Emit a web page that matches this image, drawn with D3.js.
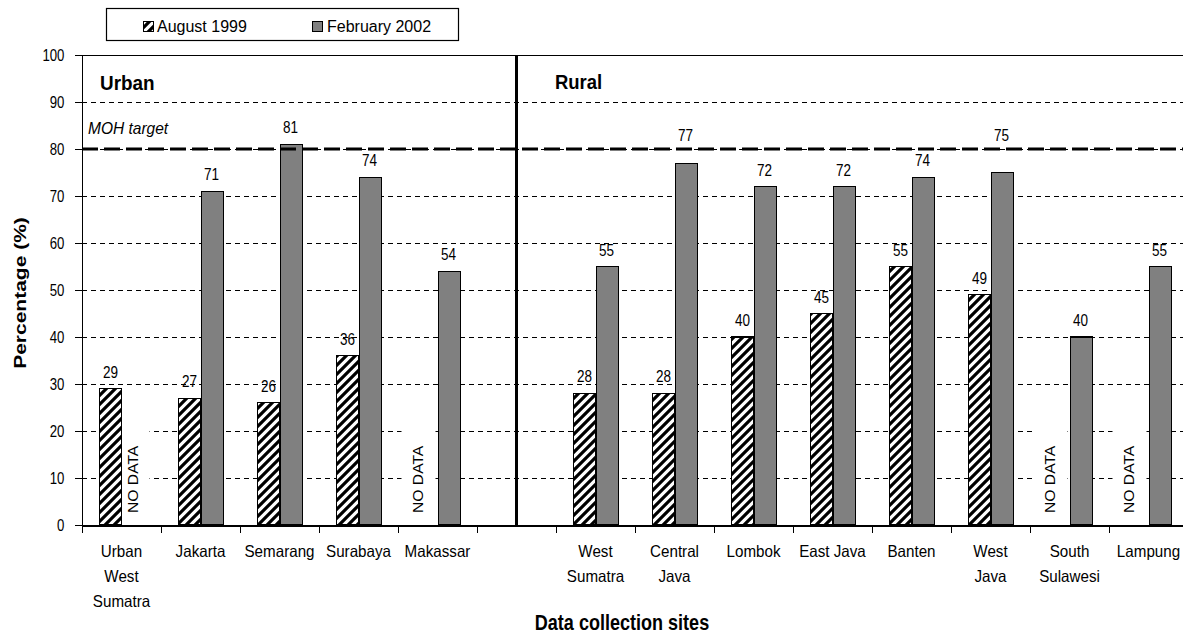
<!DOCTYPE html>
<html>
<head>
<meta charset="utf-8">
<script src="https://cdn.jsdelivr.net/npm/d3@7"></script>
<style>
  html, body { margin: 0; padding: 0; background: #fff; }
  svg { display: block; font-family: "Liberation Sans", Arial, sans-serif; }
</style>
</head>
<body>
<svg id="chart" width="1183" height="635"></svg>
<script>
// ---- data -------------------------------------------------------------
const urbanSites = ["Urban\nWest\nSumatra", "Jakarta", "Semarang", "Surabaya", "Makassar"];
const ruralSites = ["West\nSumatra", "Central\nJava", "Lombok", "East Java", "Banten", "West\nJava", "South\nSulawesi", "Lampung"];
const seriesNames = ["August 1999", "February 2002"];
const urbanAug1999 = [29, 27, 26, 36, null];
const urbanFeb2002 = [null, 71, 81, 74, 54];
const ruralAug1999 = [28, 28, 40, 45, 55, 49, null, null];
const ruralFeb2002 = [55, 77, 72, 72, 74, 75, 40, 55];
const yTicks = [0, 10, 20, 30, 40, 50, 60, 70, 80, 90, 100];
const mohTarget = 80;
const groupTitles = ["Urban", "Rural"];
const targetLabel = "MOH target";
const noDataText = "NO DATA";
const yTitle = "Percentage (%)";
const xTitle = "Data collection sites";

// ---- layout -----------------------------------------------------------
const svg = d3.select("#chart");
const plotLeft = 82, plotTop = 55, plotBottom = 525, step = 79;
const gapKey = "__gap__";

const rows = [
  ...urbanSites.map((s, i) => ({ key: "u" + i, site: s, vals: [urbanAug1999[i], urbanFeb2002[i]] })),
  { key: gapKey, site: "", vals: [] },
  ...ruralSites.map((s, i) => ({ key: "r" + i, site: s, vals: [ruralAug1999[i], ruralFeb2002[i]] }))
];

const plotRight = plotLeft + step * rows.length;

const x = d3.scaleBand()
  .domain(rows.map(d => d.key))
  .range([plotLeft, plotRight])
  .paddingInner(0).paddingOuter(0);

const xSub = d3.scaleBand()
  .domain(seriesNames)
  .range([0, x.bandwidth()])
  .paddingInner(0)
  .paddingOuter(0.795);

const y = d3.scaleLinear().domain([0, 100]).range([plotBottom, plotTop]);

const fills = ["url(#hatch)", "#808080"];

// hatch pattern for the 1999 series
const defs = svg.append("defs");
const pat = defs.append("pattern")
  .attr("id", "hatch").attr("patternUnits", "userSpaceOnUse")
  .attr("width", 9).attr("height", 9);
pat.append("rect").attr("width", 9).attr("height", 9).attr("fill", "#fff");
pat.append("path")
  .attr("d", "M-2.25,2.25 l4.5,-4.5 M0,9 l9,-9 M6.75,11.25 l4.5,-4.5")
  .attr("stroke", "#000").attr("stroke-width", 3.2);

// text helper: font drawn slightly condensed horizontally
function addText(g, str, px, py, o = {}) {
  const tr = `translate(${px},${py})` + (o.rotate ? ` rotate(${o.rotate})` : "") +
             ` scale(${o.sx ?? 1},${o.sy ?? 1})`;
  return g.append("text")
    .attr("transform", tr)
    .attr("font-size", o.size ?? 15)
    .attr("text-anchor", o.anchor ?? "middle")
    .attr("font-weight", o.weight ?? "normal")
    .attr("font-style", o.style ?? "normal")
    .attr("fill", "#000")
    .text(str);
}

// ---- gridlines --------------------------------------------------------
const grid = svg.append("g").attr("shape-rendering", "crispEdges");
grid.selectAll("line.grid")
  .data(yTicks.filter(t => t > 0 && t < 100))
  .join("line")
  .attr("class", "grid")
  .attr("x1", plotLeft).attr("x2", plotRight)
  .attr("y1", d => y(d) + 0.5).attr("y2", d => y(d) + 0.5)
  .attr("stroke", "#000").attr("stroke-width", 1)
  .attr("stroke-dasharray", "5,4");

// top frame line
grid.append("line")
  .attr("x1", plotLeft).attr("x2", plotRight)
  .attr("y1", y(100) + 0.5).attr("y2", y(100) + 0.5)
  .attr("stroke", "#000").attr("stroke-width", 1);

// ---- "NO DATA" markers (white boxes over the grid) ----------------------
const nd = svg.append("g");
rows.forEach(r => {
  r.vals.forEach((v, si) => {
    if (v !== null) return;
    const cx = x(r.key) + xSub(seriesNames[si]) + xSub.bandwidth() / 2 + (si === 0 ? -8 : 0);
    const textBottom = y(0) - 12;
    const textLen = 70;
    nd.append("rect")
      .attr("x", cx - 17).attr("width", 34)
      .attr("y", textBottom - textLen - 17)
      .attr("height", y(0) - 1 - (textBottom - textLen - 17))
      .attr("fill", "#fff");
    addText(nd, noDataText, cx + 5, textBottom, { rotate: -90, anchor: "start", size: 16, sx: 0.98, sy: 0.88 });
  });
});

// ---- bars -------------------------------------------------------------
const bars = svg.append("g").attr("shape-rendering", "crispEdges");
rows.forEach(r => {
  r.vals.forEach((v, si) => {
    if (v === null || v === undefined) return;
    bars.append("rect")
      .attr("x", Math.round(x(r.key) + xSub(seriesNames[si])) + 0.5)
      .attr("width", Math.round(xSub.bandwidth()))
      .attr("y", y(v))
      .attr("height", y(0) - y(v))
      .attr("fill", fills[si])
      .attr("stroke", "#000").attr("stroke-width", 1.2);
  });
});

// ---- MOH target line --------------------------------------------------
svg.append("line")
  .attr("x1", plotLeft).attr("x2", plotRight)
  .attr("y1", y(mohTarget)).attr("y2", y(mohTarget))
  .attr("stroke", "#000").attr("stroke-width", 3)
  .attr("stroke-dasharray", "16,6");
addText(svg, targetLabel, plotLeft + 6, y(mohTarget) - 15, { anchor: "start", size: 16, style: "italic", sx: 0.97 });

// ---- divider between urban and rural ----------------------------------
const divX = x(gapKey) + x.bandwidth() / 2;
svg.append("line")
  .attr("x1", divX).attr("x2", divX)
  .attr("y1", y(100)).attr("y2", y(0))
  .attr("stroke", "#000").attr("stroke-width", 3);

// group titles
addText(svg, groupTitles[0], plotLeft + 18, 90, { anchor: "start", size: 21, weight: "bold", sx: 0.9 });
addText(svg, groupTitles[1], x("r0") - 1, 89, { anchor: "start", size: 21, weight: "bold", sx: 0.88 });

// ---- value labels -----------------------------------------------------
const labels = svg.append("g");
rows.forEach(r => {
  r.vals.forEach((v, si) => {
    if (v === null || v === undefined) return;
    const cx = x(r.key) + xSub(seriesNames[si]) + xSub.bandwidth() / 2;
    let cy = y(v) - 17;
    if (Math.abs(cy - y(mohTarget)) < 9) cy = y(mohTarget) - 14;
    addText(labels, String(v), cx, cy + 6, { size: 16.5, sx: 0.82 });
  });
});

// ---- axes -------------------------------------------------------------
const yAxis = svg.append("g")
  .attr("transform", `translate(${plotLeft},0)`)
  .attr("shape-rendering", "crispEdges")
  .call(d3.axisLeft(y).tickValues(yTicks).tickSize(7).tickSizeOuter(0).tickFormat(d3.format("d")));
yAxis.select(".domain").attr("stroke", "#000").attr("stroke-width", 1.5);
yAxis.selectAll(".tick line").attr("stroke", "#000").attr("stroke-width", 1.2);
yAxis.selectAll(".tick text")
  .attr("font-family", "Liberation Sans, Arial, sans-serif")
  .attr("font-size", 16.5)
  .attr("fill", "#000")
  .attr("x", -22)
  .attr("dy", "0.36em")
  .attr("transform", "scale(0.8,1)");

const xIdx = d3.scaleLinear().domain([0, rows.length]).range([plotLeft, plotRight]);
const xAxis = svg.append("g")
  .attr("transform", `translate(0,${plotBottom})`)
  .attr("shape-rendering", "crispEdges")
  .call(d3.axisBottom(xIdx).tickValues(d3.range(0, rows.length + 1)).tickSize(8).tickSizeOuter(0).tickFormat(""));
xAxis.select(".domain").attr("stroke", "#000").attr("stroke-width", 2);
xAxis.selectAll(".tick line").attr("stroke", "#000").attr("stroke-width", 1.5);

// category labels
const cats = svg.append("g");
rows.forEach(r => {
  if (!r.site) return;
  const lines = r.site.split("\n");
  const cx = x(r.key) + x.bandwidth() / 2;
  lines.forEach((ln, i) => {
    addText(cats, ln, cx, 557 + i * 25, { size: 16.5, sx: 0.92 });
  });
});

// axis titles
addText(svg, yTitle, 26, 293, { rotate: -90, size: 21, weight: "bold", sx: 1, sy: 0.78 });
addText(svg, xTitle, 622, 630, { size: 22, weight: "bold", sx: 0.82 });

// ---- legend -----------------------------------------------------------
const lg = svg.append("g");
lg.append("rect")
  .attr("x", 106.5).attr("y", 8.5).attr("width", 352).attr("height", 32)
  .attr("fill", "#fff").attr("stroke", "#000").attr("stroke-width", 1.2);
const legendItems = [
  { name: seriesNames[0], fill: fills[0], sx: 143, tx: 157 },
  { name: seriesNames[1], fill: fills[1], sx: 312, tx: 327 }
];
legendItems.forEach(it => {
  lg.append("rect")
    .attr("x", it.sx + 0.5).attr("y", 21.5).attr("width", 10).attr("height", 10)
    .attr("fill", it.fill).attr("stroke", "#000").attr("stroke-width", 1);
  addText(lg, it.name, it.tx, 32, { anchor: "start", size: 16, sx: 1 });
});
</script>
</body>
</html>
